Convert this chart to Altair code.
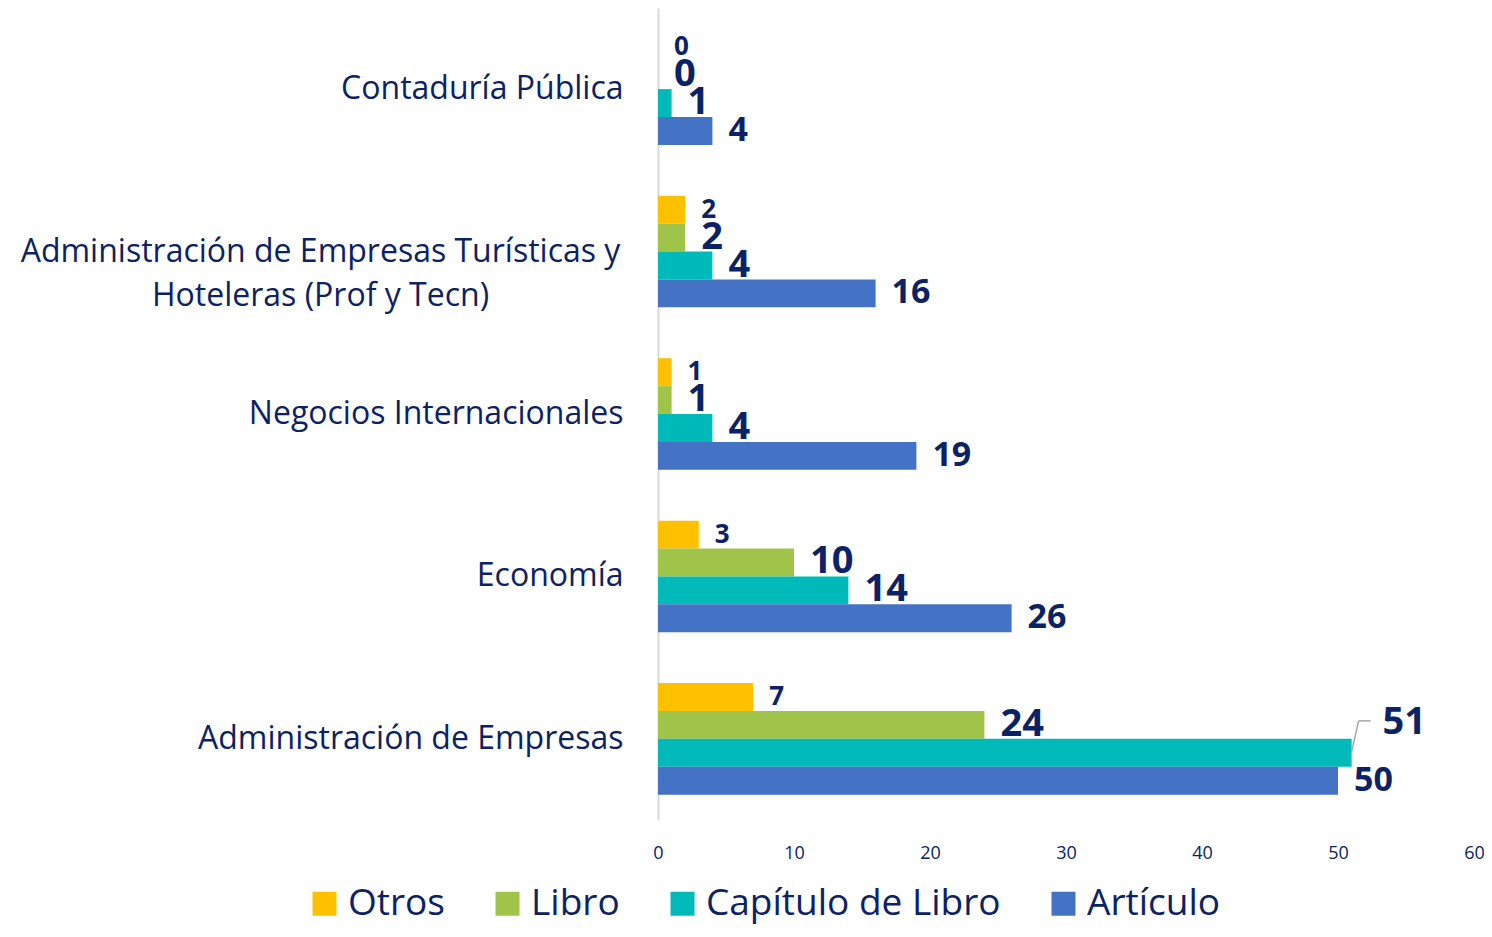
import altair as alt
import pandas as pd

categories = [
    "Contaduría Pública",
    "Administración de Empresas Turísticas y|Hoteleras (Prof y Tecn)",
    "Negocios Internacionales",
    "Economía",
    "Administración de Empresas",
]
series = ["Otros", "Libro", "Capítulo de Libro", "Artículo"]
otros = [0, 2, 1, 3, 7]
libro = [0, 2, 1, 10, 24]
capitulo = [1, 4, 4, 14, 51]
articulo = [4, 16, 19, 26, 50]

colors = ["#FFC000", "#A0C44A", "#00B9B9", "#4472C4"]
label_sizes = [26, 38, 38, 34]
navy = "#0B2265"
font = "Open Sans"

callout_cat = "Administración de Empresas"
callout_series = "Capítulo de Libro"

rows = []
for vals, s in zip([otros, libro, capitulo, articulo], series):
    for c, v in zip(categories, vals):
        rows.append({"cat": c, "serie": s, "valor": v})
df = pd.DataFrame(rows)

is_callout = f"datum.cat == '{callout_cat}' && datum.serie == '{callout_series}'"

y_enc = alt.Y(
    "cat:N",
    sort=categories,
    scale=alt.Scale(paddingInner=0.313, paddingOuter=0.156),
    axis=alt.Axis(
        title=None,
        labelExpr="split(datum.value, '|')",
        labelFont=font,
        labelFontSize=32,
        labelColor=navy,
        labelLineHeight=44,
        labelLimit=800,
        ticks=False,
        domainColor="#D9D9D9",
        domainWidth=2,
        labelAlign={"condition": {"test": "indexof(datum.value, '|') >= 0", "value": "center"}, "value": "right"},
        labelPadding={"condition": {"test": "indexof(datum.value, '|') >= 0", "value": 338}, "value": 35},
    ),
)
yoff = alt.YOffset("serie:N", sort=series, scale=alt.Scale(paddingInner=0, paddingOuter=0))
x_enc = alt.X(
    "valor:Q",
    scale=alt.Scale(domain=[0, 60], nice=False),
    axis=alt.Axis(
        title=None,
        values=[0, 10, 20, 30, 40, 50, 60],
        grid=False,
        domain=False,
        ticks=False,
        labelFlush=False,
        labelFont=font,
        labelFontSize=18,
        labelColor=navy,
        labelPadding=24,
    ),
)

base = alt.Chart(df)

bars = base.mark_bar().encode(
    x=x_enc,
    y=y_enc,
    yOffset=yoff,
    color=alt.Color(
        "serie:N",
        sort=series,
        scale=alt.Scale(domain=series, range=colors),
        legend=alt.Legend(
            title=None,
            orient="none",
            direction="horizontal",
            legendX=-352,
            legendY=877,
            symbolType="square",
            symbolSize=576,
            symbolStrokeWidth=0,
            symbolOpacity=1,
            labelFont=font,
            labelFontSize=37,
            labelColor=navy,
            labelOffset=5,
            columnPadding=44,
            labelLimit=500,
        ),
    ),
)

text_layers = []
for s, fs in zip(series, label_sizes):
    sel = f"datum.serie == '{s}'"
    text_layers.append(
        base.transform_filter(f"{sel} && !({is_callout})").mark_text(
            align="left", baseline="middle", dx=16, font=font, fontWeight="bold",
            color=navy, fontSize=fs,
        ).encode(
            x="valor:Q",
            y=alt.Y("cat:N", sort=categories),
            yOffset=yoff,
            text="valor:Q",
        )
    )

callout_size = label_sizes[series.index(callout_series)]
callout_label = base.transform_filter(is_callout).mark_text(
    align="left", baseline="middle", dx=31, dy=-30, font=font, fontWeight="bold",
    color=navy, fontSize=callout_size,
).encode(
    x="valor:Q",
    y=alt.Y("cat:N", sort=categories),
    yOffset=yoff,
    text="valor:Q",
)

leader_diag = base.transform_filter(is_callout).mark_rule(
    color="#A6A6A6", strokeWidth=1.5, xOffset=0, x2Offset=7, yOffset=13, y2Offset=-18
).encode(
    x="valor:Q",
    x2="valor:Q",
    y=alt.Y("cat:N", sort=categories),
    y2="cat:N",
)

leader_h = base.transform_filter(is_callout).mark_rule(
    color="#A6A6A6", strokeWidth=1.5, xOffset=7, x2Offset=19, yOffset=-18
).encode(
    x="valor:Q",
    x2="valor:Q",
    y=alt.Y("cat:N", sort=categories),
)

chart = (
    alt.layer(bars, *text_layers, callout_label, leader_diag, leader_h)
    .properties(
        width=816,
        height=812,
        autosize=alt.AutoSizeParams(type="none"),
        padding={"left": 650, "top": 0, "right": 10, "bottom": 108},
    )
    .configure_view(stroke=None)
)

chart.save("out.html", embed_options={"renderer": "svg", "actions": False})
